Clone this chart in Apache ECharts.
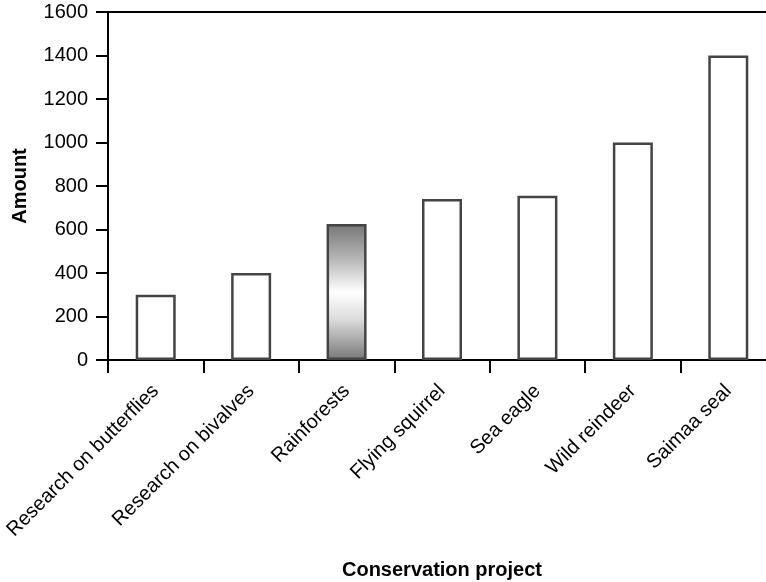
<!DOCTYPE html>
<html>
<head>
<meta charset="utf-8">
<script src="https://cdn.jsdelivr.net/npm/echarts@6/dist/echarts.min.js"></script>
<style>
  html, body { margin: 0; padding: 0; background: #fff; }
  #chart { width: 766px; height: 582px; }
</style>
</head>
<body>
<div id="chart"></div>
<script>
// Conservation project funding
const categories = [
  'Research on butterflies',
  'Research on bivalves',
  'Rainforests',
  'Flying squirrel',
  'Sea eagle',
  'Wild reindeer',
  'Saimaa seal'
];
const amounts = [300, 400, 625, 740, 755, 1000, 1400];
const highlighted = 'Rainforests';

const yMin = 0, yMax = 1600, yStep = 200;

const FONT = '"Liberation Sans", Arial, Helvetica, sans-serif';

const shaded = {
  type: 'linear', x: 0, y: 0, x2: 0, y2: 1,
  colorStops: [
    { offset: 0, color: '#777777' },
    { offset: 0.25, color: '#b4b4b4' },
    { offset: 0.5, color: '#ffffff' },
    { offset: 0.7, color: '#dcdcdc' },
    { offset: 1, color: '#777777' }
  ]
};

const seriesData = categories.map((c, i) => ({
  value: amounts[i],
  itemStyle: c === highlighted ? { color: shaded } : {}
}));

const chart = echarts.init(document.getElementById('chart'), null, { renderer: 'canvas' });
chart.setOption({
  animation: false,
  backgroundColor: '#ffffff',
  grid: {
    left: 108, top: 12, width: 668, height: 348,
    containLabel: false,
    outerBoundsMode: 'none',
    show: true,
    borderColor: '#000000',
    borderWidth: 2,
    backgroundColor: 'transparent'
  },
  xAxis: {
    type: 'category',
    data: categories,
    name: 'Conservation project',
    nameLocation: 'middle',
    nameGap: 200,
    nameTextStyle: { fontFamily: FONT, fontSize: 20, fontWeight: 'bold', color: '#000' },
    axisLine: { lineStyle: { color: '#000', width: 2 } },
    axisTick: { show: true, length: 13, lineStyle: { color: '#000', width: 2 } },
    axisLabel: {
      rotate: 45,
      interval: 0,
      margin: 28,
      fontFamily: FONT,
      fontSize: 20,
      color: '#000'
    },
    splitLine: { show: false }
  },
  yAxis: {
    type: 'value',
    min: yMin, max: yMax, interval: yStep,
    name: 'Amount',
    nameLocation: 'middle',
    nameGap: 78,
    nameRotate: 90,
    nameTextStyle: { fontFamily: FONT, fontSize: 20, fontWeight: 'bold', color: '#000' },
    axisLine: { show: true, lineStyle: { color: '#000', width: 2 } },
    axisTick: { show: true, length: 12, lineStyle: { color: '#000', width: 2 } },
    axisLabel: {
      margin: 20, fontFamily: FONT, fontSize: 20, color: '#000',
      formatter: v => String(v)
    },
    splitLine: { show: false }
  },
  series: [{
    type: 'bar',
    data: seriesData,
    barWidth: 40,
    itemStyle: { color: '#ffffff', borderColor: '#444444', borderWidth: 2.5 }
  }]
});
</script>
</body>
</html>
